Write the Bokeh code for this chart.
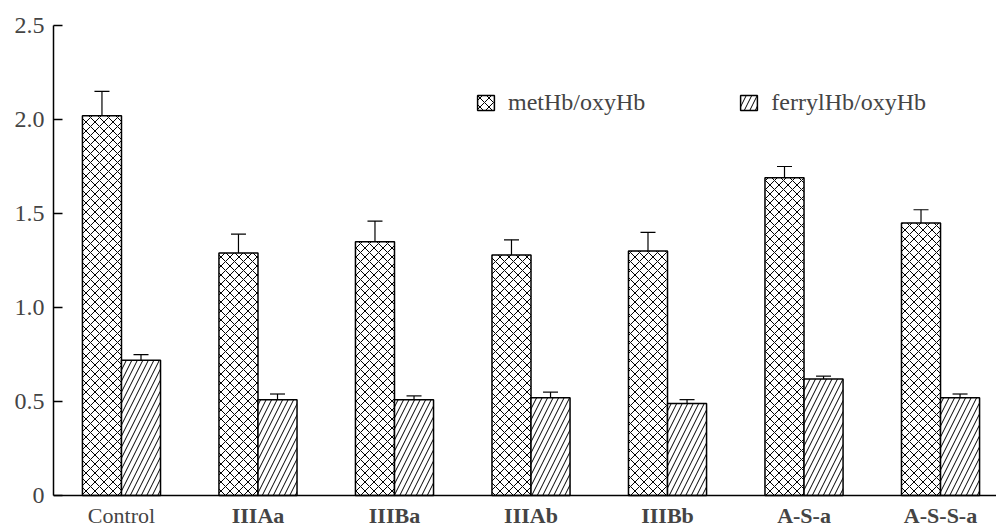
import numpy as np
from bokeh.plotting import figure
from bokeh.models import (ColumnDataSource, Range1d, FixedTicker, Whisker, TeeHead, Legend,
                          LegendItem, LinearAxis, PrintfTickFormatter)
from bokeh.transform import dodge
from bokeh.embed import file_html
from bokeh.resources import INLINE

categories = ["Control", "IIIAa", "IIIBa", "IIIAb", "IIIBb", "A-S-a", "A-S-S-a"]
met_values = [2.02, 1.29, 1.35, 1.28, 1.30, 1.69, 1.45]
met_errors = [0.13, 0.10, 0.11, 0.08, 0.10, 0.06, 0.07]
ferryl_values = [0.72, 0.51, 0.51, 0.52, 0.49, 0.62, 0.52]
ferryl_errors = [0.03, 0.03, 0.02, 0.03, 0.02, 0.015, 0.02]
series_names = ["metHb/oxyHb", "ferrylHb/oxyHb"]
y_ticks = [0, 0.5, 1.0, 1.5, 2.0, 2.5]

FONT = "Liberation Serif"
FS = "24px"
XFS = "22px"
idx = list(range(len(categories)))

met = ColumnDataSource(dict(x=idx, top=met_values,
                            upper=[v + e for v, e in zip(met_values, met_errors)],
                            lower=[v - e for v, e in zip(met_values, met_errors)]))
fer = ColumnDataSource(dict(x=idx, top=ferryl_values,
                            upper=[v + e for v, e in zip(ferryl_values, ferryl_errors)],
                            lower=[v - e for v, e in zip(ferryl_values, ferryl_errors)]))

p = figure(width=996, height=527, output_backend="svg", toolbar_location=None,
           x_range=Range1d(-0.498, 6.41), y_range=Range1d(-0.170, 2.5),
           min_border_left=53, min_border_right=0, min_border_top=25, min_border_bottom=0)
p.outline_line_color = None
p.xgrid.visible = False
p.ygrid.visible = False

off = 0.143
w = 0.286
r1 = p.vbar(x=dodge("x", -off), top="top", bottom=0, width=w, source=met,
            fill_color="white", line_color="black", line_width=1.5,
            hatch_pattern="diagonal_cross", hatch_scale=9, hatch_weight=1, hatch_color="black")
r2 = p.vbar(x=dodge("x", off), top="top", bottom=0, width=w, source=fer,
            fill_color="white", line_color="black", line_width=1.5,
            hatch_pattern="right_diagonal_line", hatch_scale=11, hatch_weight=1, hatch_color="black")

for src, sh in ((met, -off), (fer, off)):
    wk = Whisker(base=dodge("x", sh), upper="upper", lower="lower", source=src,
                 line_color="black", line_width=1.2,
                 upper_head=TeeHead(size=15, line_color="black", line_width=1.2),
                 lower_head=TeeHead(size=15, line_color="black", line_width=1.2))
    p.add_layout(wk)

# y axis
p.yaxis.ticker = FixedTicker(ticks=y_ticks)
p.yaxis.formatter = PrintfTickFormatter(format="%.1f")
p.yaxis.major_label_overrides = {0: "0"}
p.yaxis.bounds = (0, 2.5)
p.yaxis.major_tick_in = 9
p.yaxis.major_tick_out = 0
p.yaxis.minor_tick_line_color = None
p.yaxis.axis_line_width = 1.5
p.yaxis.major_tick_line_width = 1.5
p.yaxis.major_label_text_font = FONT
p.yaxis.major_label_text_font_size = FS
p.yaxis.major_label_standoff = 9

# x axis (bold labels) fixed at y = 0
xa = p.xaxis[0]
xa.fixed_location = 0
xa.ticker = FixedTicker(ticks=idx)
xa.major_label_overrides = {i: ("" if i == 0 else c) for i, c in enumerate(categories)}
xa.major_tick_line_color = None
xa.minor_tick_line_color = None
xa.axis_line_width = 1.5
xa.major_label_text_font = FONT
xa.major_label_text_font_size = XFS
xa.major_label_text_font_style = "bold"
xa.major_label_standoff = 1

# second x axis for the normal-weight "Control" label
xa2 = LinearAxis(fixed_location=0, ticker=FixedTicker(ticks=[0]),
                 major_label_overrides={0: categories[0]},
                 axis_line_color=None, major_tick_line_color=None, minor_tick_line_color=None,
                 major_label_text_font=FONT, major_label_text_font_size=XFS,
                 major_label_standoff=1)
p.add_layout(xa2, "below")

legend = Legend(items=[LegendItem(label=series_names[0], renderers=[r1]),
                       LegendItem(label=series_names[1], renderers=[r2])],
                orientation="horizontal", location=(422, 411),
                glyph_width=21, glyph_height=19, label_height=19, label_standoff=12,
                spacing=93, padding=0, margin=0, border_line_color=None,
                background_fill_alpha=0,
                label_text_font=FONT, label_text_font_size=FS)
p.add_layout(legend, "center")

open("out.html", "w").write(file_html(p, INLINE))
